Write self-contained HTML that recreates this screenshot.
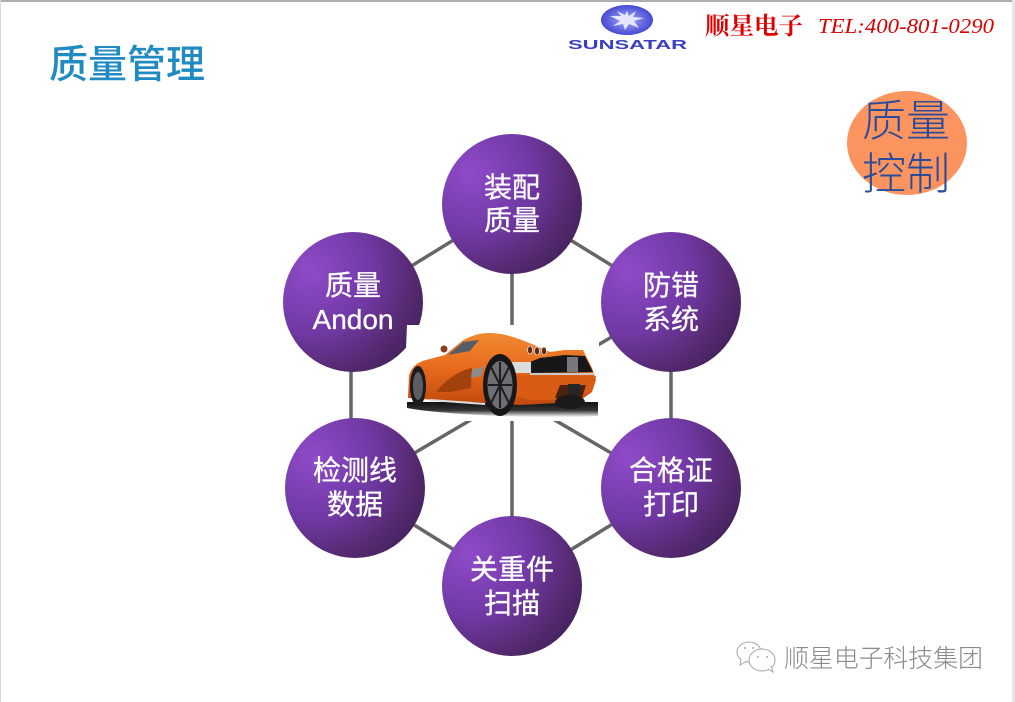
<!DOCTYPE html>
<html>
<head>
<meta charset="utf-8">
<style>
html,body{margin:0;padding:0;background:#fff}
body{width:1015px;height:702px;overflow:hidden}
svg{display:block}
text{font-family:"Liberation Sans","Noto Sans CJK SC",sans-serif}
</style>
</head>
<body>
<svg width="1015" height="702" viewBox="0 0 1015 702" xmlns="http://www.w3.org/2000/svg">
<defs>
<radialGradient id="p" cx="0.2" cy="0.28" r="0.9">
<stop offset="0" stop-color="#8f4bc9"/>
<stop offset="0.5" stop-color="#7038a3"/>
<stop offset="0.82" stop-color="#55296f"/>
<stop offset="1" stop-color="#42235c"/>
</radialGradient>
<radialGradient id="logo" cx="0.5" cy="0.5" r="0.55">
<stop offset="0" stop-color="#a4acf6"/>
<stop offset="1" stop-color="#3d3fd0"/>
</radialGradient>
<linearGradient id="body" x1="0" y1="0" x2="0" y2="1">
<stop offset="0" stop-color="#ef8a32"/>
<stop offset="0.5" stop-color="#e8691c"/>
<stop offset="1" stop-color="#c04a0e"/>
</linearGradient>
<linearGradient id="sh" x1="0" y1="0" x2="0" y2="1">
<stop offset="0" stop-color="#111"/>
<stop offset="0.55" stop-color="#333"/>
<stop offset="1" stop-color="#fff"/>
</linearGradient>
</defs>

<rect width="1015" height="702" fill="#fff"/>
<rect x="0" y="0" width="1015" height="2" fill="#aeaeb2"/>
<rect x="0" y="0" width="1" height="702" fill="#d8d8d8"/>
<rect x="1012" y="0" width="3" height="702" fill="#e6e6e6"/>

<!-- title -->
<text x="49" y="78" font-size="39" font-weight="500" fill="#1f8bc2" style="font-family:'Noto Sans CJK SC',sans-serif">质量管理</text>

<!-- logo -->
<ellipse cx="627" cy="20" rx="26" ry="15" fill="url(#logo)"/>
<polygon points="627,11 629,16 636,11 633,17 644,18 634,21 639,28 629,24 625,30 623,24 613,26 620,21 610,16 621,16 617,11 625,15" fill="#e4e7ff"/>
<text x="568" y="49" font-size="12.5" font-weight="700" fill="#3a3fc0" textLength="119" lengthAdjust="spacingAndGlyphs">SUNSATAR</text>

<!-- red header -->
<text x="705" y="34" font-size="24" font-weight="700" fill="#e00000" style="font-family:'Noto Serif CJK SC',serif" textLength="98" lengthAdjust="spacingAndGlyphs">顺星电子</text>
<text x="818" y="33" font-size="21" font-style="italic" fill="#d80000" style="font-family:'Liberation Serif',serif" textLength="176" lengthAdjust="spacingAndGlyphs">TEL:400-801-0290</text>

<!-- badge -->
<ellipse cx="907" cy="143" rx="60" ry="52" fill="#fb945f"/>
<text x="862" y="136" font-size="44" font-weight="300" fill="#2b4c9b" style="font-family:'Noto Sans CJK SC',sans-serif">质量</text>
<text x="862" y="189" font-size="44" font-weight="300" fill="#2b4c9b" style="font-family:'Noto Sans CJK SC',sans-serif">控制</text>

<!-- connectors -->
<g stroke="#666" stroke-width="3.5" fill="none">
<line x1="512" y1="204" x2="353" y2="302"/>
<line x1="512" y1="204" x2="671" y2="302"/>
<line x1="351" y1="302" x2="351" y2="488"/>
<line x1="671" y1="302" x2="671" y2="488"/>
<line x1="355" y1="488" x2="512" y2="586"/>
<line x1="671" y1="488" x2="512" y2="586"/>
<line x1="512" y1="204" x2="512" y2="586"/>
<line x1="671" y1="302" x2="355" y2="488"/>
<line x1="353" y1="302" x2="671" y2="488"/>
</g>

<!-- nodes -->
<circle cx="512" cy="204" r="70" fill="url(#p)"/>
<circle cx="353" cy="302" r="70" fill="url(#p)"/>
<circle cx="671" cy="302" r="70" fill="url(#p)"/>
<circle cx="355" cy="488" r="70" fill="url(#p)"/>
<circle cx="671" cy="488" r="70" fill="url(#p)"/>
<circle cx="512" cy="586" r="70" fill="url(#p)"/>

<!-- white backing of the car picture -->
<rect x="407" y="325" width="192" height="96" fill="#fff"/>
<polygon points="405,372 407,325 440,325 440,372" fill="#fff"/>

<!-- node labels -->
<g fill="#fff" font-size="28" text-anchor="middle" stroke="#fff" stroke-width="0.3">
<text x="512" y="197">装配</text>
<text x="512" y="230">质量</text>
<text x="353" y="295">质量</text>
<text x="353" y="329">Andon</text>
<text x="671" y="295">防错</text>
<text x="671" y="329">系统</text>
<text x="355" y="480">检测线</text>
<text x="355" y="514">数据</text>
<text x="671" y="480">合格证</text>
<text x="671" y="514">打印</text>
<text x="512" y="579">关重件</text>
<text x="512" y="613">扫描</text>
</g>

<!-- car -->
<path d="M407,402 H598 V416 C560,419 450,416 407,408 Z" fill="url(#sh)"/>
<path d="M408,398 L409,376 C411,367 418,362 426,360 L445,355 L462,341 C472,335 480,333 490,333 C505,333 520,339 534,345 L550,352 L565,350 L583,350 L592,368 L596,380 L592,392 L578,402 L520,405 L440,400 L420,399 Z" fill="url(#body)"/>
<path d="M448,355 L463,342 L479,340 L473,347 L470,351 Z" fill="#565d66"/>
<circle cx="444" cy="349" r="3.5" fill="#8a3a20"/>
<path d="M530,362 L540,358 L565,355 L585,356 L593,372 L530,373 Z" fill="#17171a"/>
<rect x="512" y="362" width="19" height="11" fill="#dcdcdc"/>
<rect x="567" y="357" width="11" height="15" fill="#77777d"/>
<path d="M530,373 H595 L594,375 H530 Z" fill="#c8c8c8"/>
<path d="M505,375 L596,376 L592,390 L578,400 L530,400 L515,396 Z" fill="#d95b14"/>
<path d="M560,385 L586,385 L582,398 L555,398 Z" fill="#4a2210"/>
<rect x="568" y="384" width="12" height="11" fill="#252525"/>
<path d="M436,392 C445,380 460,370 472,368 L471,388 L450,392 Z" fill="#a3410d"/>
<path d="M472,370 L484,366 L481,376 L471,378 Z" fill="#8c8c8c"/>
<g fill="#5a2a20" stroke="#eee" stroke-width="0.7">
<ellipse cx="530" cy="350" rx="2.5" ry="4"/>
<ellipse cx="537" cy="351" rx="2.5" ry="4"/>
<ellipse cx="544" cy="351" rx="2.5" ry="4"/>
</g>
<path d="M430,400 L485,404" stroke="#ddd" stroke-width="2"/>
<ellipse cx="418" cy="386" rx="8" ry="20" fill="#1b1b1e"/>
<ellipse cx="418" cy="386" rx="5" ry="14" fill="#5e5e62"/>
<ellipse cx="500" cy="385" rx="17" ry="31" fill="#17171a"/>
<ellipse cx="500" cy="385" rx="12.5" ry="24" fill="#6e6e72"/>
<g stroke="#1e1e20" stroke-width="2">
<line x1="500" y1="362" x2="500" y2="408"/>
<line x1="488" y1="385" x2="512" y2="385"/>
<line x1="491" y1="367" x2="509" y2="403"/>
<line x1="509" y1="367" x2="491" y2="403"/>
</g>
<ellipse cx="570" cy="402" rx="15" ry="7" fill="#1a1a1a"/>

<!-- watermark -->
<g fill="#fff" stroke="#a8a8a8" stroke-width="1">
<ellipse cx="749" cy="652" rx="12" ry="10"/>
<path d="M741,659 L740,665 L747,661"/>
<ellipse cx="762" cy="660" rx="13" ry="11"/>
<path d="M768,669 L773,672 L771,666"/>
</g>
<g fill="#a8a8a8">
<circle cx="745" cy="648" r="1"/><circle cx="753" cy="648" r="1"/>
<circle cx="758" cy="657" r="1"/><circle cx="767" cy="657" r="1"/>
</g>
<text x="784" y="667" font-size="25" font-weight="300" fill="#8a8a8a" style="font-family:'Noto Sans CJK SC',sans-serif" textLength="199">顺星电子科技集团</text>
</svg>
</body>
</html>
